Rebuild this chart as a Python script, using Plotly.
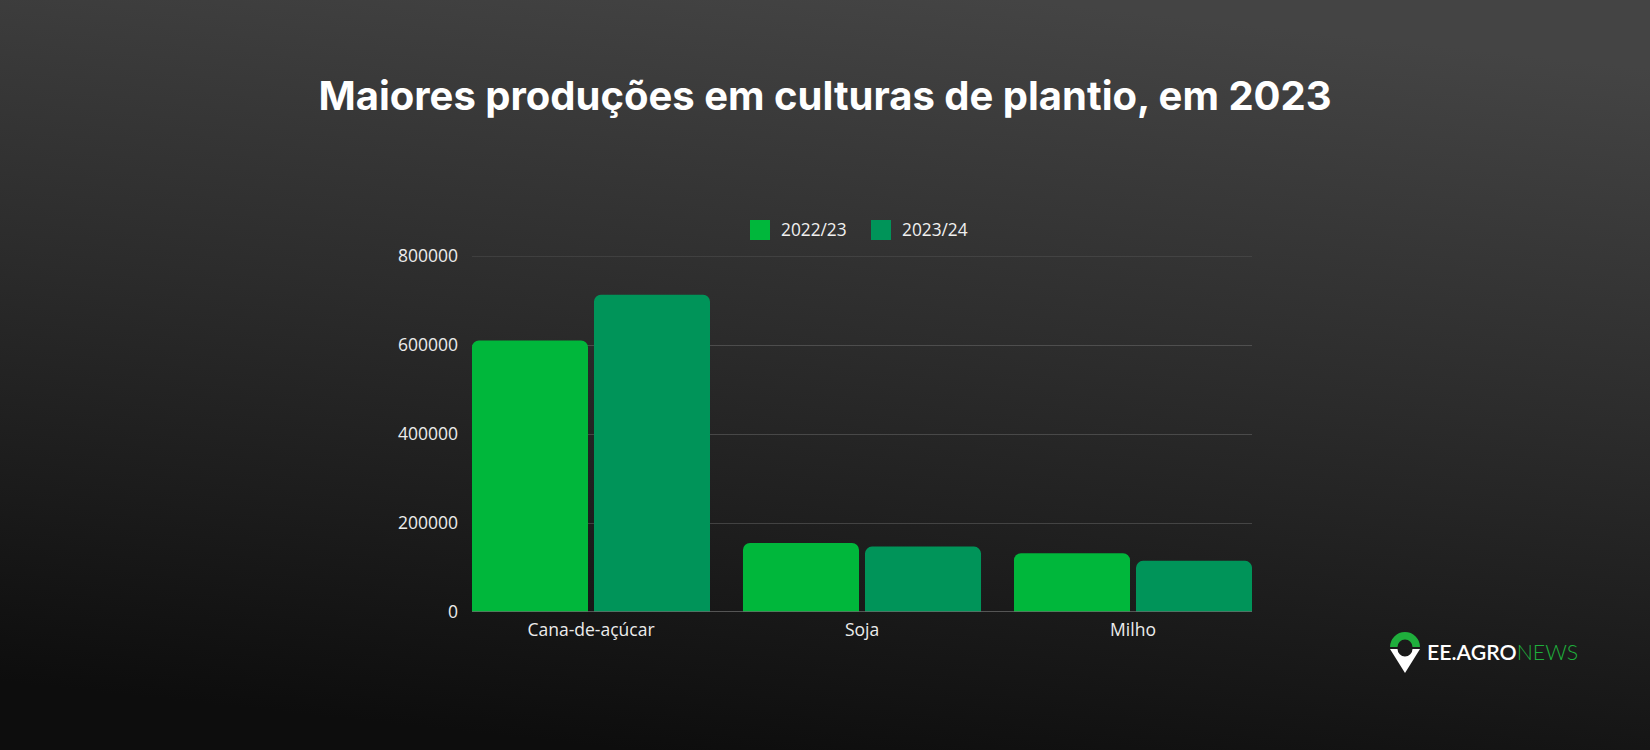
import base64
import plotly.graph_objects as go

# ---- data ----
title_text = "Maiores produções em culturas de plantio, em 2023"
categories = ["Cana-de-açúcar", "Soja", "Milho"]
series_names = ["2022/23", "2023/24"]
values_2022_23 = [610000, 155000, 132000]
values_2023_24 = [713000, 147000, 115000]
series_values = [values_2022_23, values_2023_24]
series_colors = ["#00b73b", "#009459"]
y_ticks = [0, 200000, 400000, 600000, 800000]

W, H = 1650, 750
L, R, T, B = 472, 398, 256, 138
PW, PH = W - L - R, H - T - B


def px(x):
    return (x - L) / PW


def py(y):
    return (H - B - y) / PH


# background gradient + logo icon as one svg image
svg = f"""<svg xmlns='http://www.w3.org/2000/svg' width='{W}' height='{H}' viewBox='0 0 {W} {H}' preserveAspectRatio='none'>
<defs><linearGradient id='g' x1='0.62' y1='0' x2='0.38' y2='1'>
<stop offset='0' stop-color='#444444'/><stop offset='0.45' stop-color='#2c2c2c'/><stop offset='1' stop-color='#0d0d0d'/>
</linearGradient></defs>
<rect x='0' y='0' width='{W}' height='{H}' fill='url(#g)'/>
<path d='M1390,647 A15,15 0 0 1 1420,647 L1412.5,647 A7.5,7.5 0 0 0 1397.5,647 Z' fill='#1fae3c'/>
<path d='M1390,649 L1397.5,649 A7.5,7.5 0 0 0 1412.5,649 L1420,649 L1405,673 Z' fill='#ffffff'/>
</svg>"""
svg_uri = "data:image/svg+xml;base64," + base64.b64encode(svg.encode()).decode()

fig = go.Figure()
for name, vals, col in zip(series_names, series_values, series_colors):
    fig.add_trace(go.Bar(name=name, x=categories, y=vals, marker=dict(color=col, line=dict(width=0)),
                         showlegend=False))

g = 0.0996
edge = 0.4391
grid_col = "rgba(255,255,255,0.16)"
fig.update_layout(
    width=W, height=H,
    margin=dict(l=L, r=R, t=T, b=B, pad=0),
    paper_bgcolor="#2a2a2a",
    plot_bgcolor="rgba(0,0,0,0)",
    barmode="group",
    bargap=g,
    bargroupgap=0.049,
    barcornerradius=7,
    font=dict(family="Open Sans", color="#ececec", size=17.5),
    title=dict(text=f"<b>{title_text}</b>", x=0.5, xref="container", xanchor="center",
               y=1 - 96 / H, yref="container", yanchor="middle",
               font=dict(family="Inter", size=40, color="#ffffff")),
    xaxis=dict(range=[-edge, 2 + edge], showgrid=False, ticks="", showline=False,
               zeroline=False, tickfont=dict(size=17.5, color="#ececec"), ticklabelstandoff=5),
    yaxis=dict(range=[0, y_ticks[-1]], tickvals=y_ticks, tickformat="d", showgrid=True,
               gridcolor=grid_col, gridwidth=1, zeroline=False, showline=False,
               ticks="", ticklabelstandoff=13, tickfont=dict(size=17.5, color="#ececec")),
    images=[dict(source=svg_uri, xref="paper", yref="paper", x=px(0), y=py(0),
                 sizex=px(W) - px(0), sizey=py(0) - py(H), sizing="stretch",
                 xanchor="left", yanchor="top", layer="below", opacity=1)],
)

# top gridline (plotly hides the gridline sitting on the range edge)
fig.add_shape(type="line", xref="paper", yref="y", x0=0, x1=1, y0=y_ticks[-1], y1=y_ticks[-1],
              line=dict(color=grid_col, width=1), layer="below")

# x axis baseline
fig.add_shape(type="line", xref="paper", yref="y", x0=0, x1=1, y0=0, y1=0,
              line=dict(color="#6a6a6a", width=1.5), layer="above")

# custom legend
leg = [(750, 779), (871, 900)]
for (sx, tx), name, col in zip(leg, series_names, series_colors):
    fig.add_shape(type="rect", xref="paper", yref="paper", x0=px(sx), x1=px(sx + 20),
                  y0=py(240), y1=py(220), fillcolor=col, line=dict(width=0))
    fig.add_annotation(text=name, xref="paper", yref="paper", x=px(tx), y=py(230),
                       xanchor="left", yanchor="middle", showarrow=False,
                       font=dict(family="Open Sans", size=17.3, color="#f0f0f0"))

# logo text
fig.add_annotation(text="<span style='font-weight:600'>EE.AGRO</span><span style='color:#1fae3c;font-weight:300'>NEWS</span>",
                   xref="paper", yref="paper", x=px(1425), y=py(652), xanchor="left", yanchor="middle",
                   showarrow=False, font=dict(family="Lato", size=21.3, color="#ffffff"))

fig.write_html("out.html", config={"displayModeBar": False},
               post_script="document.body.style.margin='0';document.body.style.overflow='hidden';")
